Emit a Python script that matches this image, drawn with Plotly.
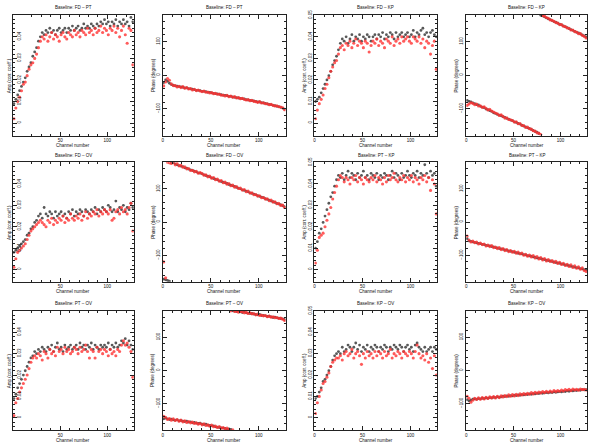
import plotly.graph_objects as go

W, H = 589, 443

# every second channel of the 128-channel band
CHANNELS = list(range(1, 128, 2))

# amplitudes are in units of 1e-3 corr. coeff., phases in degrees
AMP_FD_PT_GRAY = [9, 11, 13, 15, 17, 19, 21, 24, 26, 28, 31, 33, 35, 38, 40, 42,
                  41, 43, 42, 44, 42, 43, 41, 43, 44, 42, 43, 44, 42, 44, 43, 45,
                  43, 44, 45, 43, 44, 46, 44, 45, 44, 46, 45, 44, 46, 45, 47, 46,
                  48, 46, 47, 45, 47, 46, 48, 45, 47, 46, 48, 46, 47, 45, 49, 47]
AMP_FD_PT_RED = [2, 7, 10, 12, 15, 18, 19, 22, 25, 27, 28, 30, 32, 35, 38, 40,
                 39, 41, 38, 40, 42, 39, 41, 40, 38, 41, 42, 40, 39, 42, 41, 40,
                 43, 41, 42, 40, 43, 42, 41, 44, 42, 43, 41, 44, 42, 43, 45, 42,
                 44, 43, 41, 44, 43, 45, 42, 44, 40, 43, 45, 41, 37, 44, 43, 27]

PHA_FD_PT_GRAY = [-22, -14, -18, -24, -28, -30, -32, -33, -34, -35, -36, -38, -38, -40, -41, -42,
                  -43, -45, -45, -46, -48, -48, -49, -51, -51, -53, -54, -55, -56, -57, -58, -60,
                  -60, -61, -63, -63, -65, -66, -67, -68, -69, -70, -71, -73, -74, -75, -76, -77,
                  -78, -80, -80, -82, -83, -84, -86, -87, -88, -90, -91, -93, -94, -96, -98, -101]
PHA_FD_PT_RED = [-32, -20, -10, -15, -26, -31, -31, -35, -33, -37, -34, -39, -37, -41, -40, -44,
                 -42, -46, -44, -47, -49, -47, -51, -50, -53, -52, -55, -54, -57, -56, -60, -59,
                 -62, -60, -64, -62, -66, -64, -68, -67, -70, -69, -72, -74, -73, -76, -75, -78,
                 -79, -81, -79, -83, -82, -85, -85, -88, -87, -90, -92, -91, -94, -95, -97, -103]

AMP_FD_KP_GRAY = [10, 11, 12, 14, 16, 18, 20, 22, 24, 27, 29, 31, 34, 37, 39, 38,
                  40, 37, 39, 41, 38, 40, 39, 41, 38, 40, 39, 41, 40, 38, 40, 41,
                  39, 41, 40, 42, 39, 41, 40, 42, 41, 39, 42, 40, 41, 42, 40, 41,
                  42, 40, 41, 43, 40, 42, 41, 43, 44, 41, 42, 40, 42, 43, 41, 40]
AMP_FD_KP_RED = [2, 6, 9, 11, 13, 16, 18, 21, 24, 26, 28, 29, 32, 35, 36, 34,
                 37, 36, 38, 35, 37, 39, 36, 38, 37, 35, 38, 37, 33, 36, 38, 37,
                 39, 36, 38, 37, 35, 39, 38, 37, 40, 36, 38, 39, 37, 40, 38, 39,
                 40, 38, 37, 40, 39, 38, 40, 37, 39, 35, 38, 37, 32, 36, 38, 25]

PHA_FD_KP_GRAY = [-75, -78, -80, -83, -85, -88, -89, -93, -95, -97, -101, -103, -106, -108, -112, -114,
                  -117, -119, -121, -124, -126, -129, -131, -134, -136, -139, -141, -144, -146, -149, -152, -154,
                  -157, -159, -162, -165, -168, -170, -174, 179, 177, 174, 171, 168, 166, 163, 160, 158,
                  155, 152, 150, 147, 144, 142, 139, 136, 134, 131, 128, 126, 123, 120, 117, 114]
PHA_FD_KP_RED = [-90, -86, -82, -84, -88, -86, -92, -91, -96, -94, -99, -104, -102, -107, -110, -113,
                 -115, -120, -118, -123, -128, -127, -132, -133, -135, -140, -139, -145, -144, -150, -150, -156,
                 -155, -160, -161, -166, -167, -172, -173, -177, 178, 176, 172, 170, 165, 164, 161, 157,
                 156, 151, 151, 146, 145, 141, 140, 135, 135, 130, 129, 124, 124, 119, 116, 111]

AMP_FD_OV_GRAY = [8, 9, 10, 11, 12, 13, 14, 16, 17, 19, 20, 22, 23, 25, 26, 24,
                  29, 26, 25, 27, 26, 24, 27, 25, 26, 27, 25, 26, 24, 27, 26, 28,
                  25, 27, 26, 28, 27, 25, 28, 27, 26, 28, 27, 29, 26, 28, 27, 29,
                  28, 27, 30, 29, 27, 28, 32, 27, 29, 28, 30, 27, 29, 28, 31, 29]
AMP_FD_OV_RED = [1, 5, 8, 9, 10, 11, 12, 14, 16, 18, 19, 20, 21, 22, 23, 22,
                 21, 20, 23, 22, 24, 21, 23, 22, 24, 23, 25, 22, 24, 23, 26, 24,
                 23, 25, 24, 26, 23, 25, 27, 24, 26, 25, 27, 26, 28, 25, 27, 26,
                 28, 27, 26, 28, 23, 24, 27, 28, 26, 29, 27, 28, 26, 29, 31, 18]

PHA_FD_OV_GRAY = [-172, -174, -176, -178, 179, 178, 175, 172, 170, 168, 167, 163, 162, 159, 157, 155,
                  153, 151, 148, 147, 145, 142, 140, 138, 136, 133, 131, 129, 127, 124, 122, 120,
                  118, 116, 113, 111, 109, 107, 104, 102, 100, 97, 95, 93, 91, 88, 86, 84,
                  82, 79, 77, 75, 73, 70, 68, 66, 63, 61, 59, 56, 54, 52, 49, 46]
PHA_FD_OV_RED = [-120, -168, 180, 178, 176, 179, 172, 176, 169, 171, 165, 166, 160, 161, 155, 156,
                 151, 153, 147, 149, 146, 141, 142, 136, 138, 132, 134, 127, 129, 123, 125, 118,
                 120, 114, 116, 109, 111, 105, 107, 101, 102, 96, 98, 91, 93, 87, 88, 82,
                 83, 78, 79, 73, 74, 69, 70, 64, 66, 60, 61, 55, 56, 50, 51, 44]

AMP_PT_KP_GRAY = [10, 13, 17, 19, 22, 25, 28, 31, 34, 36, 39, 42, 44, 43, 45, 42,
                  44, 46, 43, 45, 44, 42, 45, 43, 44, 46, 43, 44, 42, 45, 44, 43,
                  45, 42, 44, 43, 45, 44, 42, 44, 46, 43, 45, 44, 42, 45, 43, 44,
                  46, 44, 43, 45, 44, 46, 43, 45, 44, 49, 45, 43, 46, 44, 45, 39]
AMP_PT_KP_RED = [3, 9, 15, 16, 17, 20, 23, 26, 29, 33, 36, 39, 42, 44, 43, 41,
                 43, 42, 40, 43, 42, 44, 41, 43, 42, 40, 43, 42, 41, 43, 42, 44,
                 41, 43, 42, 40, 43, 41, 44, 42, 43, 45, 42, 41, 43, 42, 44, 41,
                 43, 42, 44, 41, 43, 42, 40, 43, 42, 44, 41, 43, 37, 42, 40, 26]

PHA_PT_KP_GRAY = [-50, -57, -58, -60, -61, -63, -64, -65, -67, -68, -70, -71, -72, -74, -75, -77,
                  -78, -80, -81, -82, -84, -85, -87, -88, -89, -91, -92, -94, -95, -96, -98, -99,
                  -101, -102, -103, -105, -106, -108, -109, -110, -112, -113, -115, -116, -117, -119, -120, -122,
                  -123, -124, -126, -127, -129, -130, -131, -133, -134, -136, -137, -138, -140, -141, -143, -144]
PHA_PT_KP_RED = [-42, -54, -60, -57, -62, -60, -66, -63, -68, -66, -72, -69, -74, -71, -77, -75,
                 -80, -77, -83, -80, -86, -83, -89, -86, -91, -88, -94, -90, -96, -93, -100, -97,
                 -103, -99, -105, -101, -108, -104, -111, -107, -114, -110, -117, -113, -119, -116, -122, -118,
                 -125, -121, -128, -124, -131, -127, -134, -129, -137, -132, -139, -135, -142, -138, -146, -149]

AMP_PT_OV_GRAY = [9, 11, 14, 16, 18, 20, 22, 24, 26, 28, 29, 31, 30, 32, 31, 33,
                  32, 31, 33, 32, 34, 31, 33, 35, 32, 33, 31, 34, 32, 33, 34, 32,
                  33, 34, 32, 35, 33, 34, 32, 34, 33, 35, 32, 34, 33, 32, 34, 33,
                  34, 33, 35, 32, 34, 33, 35, 33, 34, 36, 35, 37, 34, 36, 34, 32]
AMP_PT_OV_RED = [1, 7, 9, 12, 14, 16, 18, 20, 23, 26, 28, 29, 28, 30, 29, 27,
                 31, 30, 28, 32, 30, 31, 29, 33, 31, 32, 30, 33, 31, 32, 30, 31,
                 33, 32, 30, 33, 31, 32, 34, 31, 28, 32, 31, 28, 33, 31, 32, 30,
                 32, 31, 29, 32, 30, 31, 29, 32, 31, 34, 36, 34, 35, 33, 31, 19]

PHA_PT_OV_GRAY = [-146, -144, -146, -148, -147, -149, -150, -149, -152, -151, -153, -154, -153, -156, -155, -158,
                  -157, -159, -160, -159, -162, -163, -162, -165, -166, -167, -167, -170, -171, -172, -173, -174,
                  -175, -177, -176, -178, 179, 178, 177, 178, 176, 174, 175, 173, 172, 171, 171, 169,
                  168, 167, 168, 165, 165, 164, 162, 163, 161, 159, 160, 158, 157, 156, 155, 153]
PHA_PT_OV_RED = [-138, -141, -148, -145, -150, -146, -151, -148, -153, -150, -155, -152, -157, -154, -158, -156,
                 -160, -158, -162, -160, -164, -161, -166, -164, -168, -165, -170, -168, -172, -169, -174, -172,
                 -176, -174, -178, 179, -179, 177, 178, 175, 177, 176, 173, 175, 171, 173, 170, 171,
                 167, 169, 165, 166, 164, 165, 161, 163, 160, 161, 158, 159, 156, 157, 154, 150]

AMP_KP_OV_GRAY = [9, 10, 12, 14, 17, 18, 20, 22, 24, 27, 29, 30, 31, 30, 33, 31,
                  32, 34, 33, 31, 33, 35, 32, 34, 31, 33, 32, 34, 31, 33, 32, 34,
                  33, 31, 33, 32, 34, 33, 31, 33, 32, 34, 33, 32, 34, 33, 31, 33,
                  34, 32, 33, 31, 34, 35, 33, 32, 31, 33, 31, 32, 33, 31, 33, 32]
AMP_KP_OV_RED = [2, 7, 10, 13, 16, 17, 19, 21, 24, 26, 27, 28, 28, 29, 27, 30,
                 31, 29, 30, 32, 28, 30, 31, 29, 25, 30, 28, 31, 29, 30, 28, 31,
                 29, 31, 30, 28, 31, 29, 30, 32, 28, 30, 29, 31, 30, 28, 31, 30,
                 29, 31, 30, 28, 31, 34, 30, 28, 29, 27, 30, 26, 28, 23, 29, 20]

PHA_KP_OV_GRAY = [-88, -92, -90, -87, -86, -87, -85, -86, -84, -85, -83, -84, -82, -83, -81, -82,
                  -80, -81, -80, -78, -79, -77, -78, -76, -77, -75, -76, -74, -75, -73, -74, -72,
                  -73, -71, -72, -70, -71, -69, -70, -68, -69, -68, -67, -68, -66, -67, -65, -66,
                  -65, -64, -65, -63, -64, -62, -63, -61, -62, -60, -61, -59, -60, -58, -59, -58]
PHA_KP_OV_RED = [-78, -84, -96, -90, -84, -88, -83, -87, -82, -86, -81, -85, -80, -83, -79, -83,
                 -78, -82, -77, -80, -76, -79, -74, -78, -73, -77, -72, -76, -71, -74, -70, -73,
                 -69, -72, -67, -71, -66, -69, -65, -68, -64, -67, -63, -66, -62, -65, -61, -64,
                 -61, -63, -59, -62, -58, -60, -57, -61, -56, -59, -57, -60, -56, -58, -57, -59]

PANELS = [
    # row, col, kind, baseline, grey series, red series
    (0, 0, "amp", "FD – PT", AMP_FD_PT_GRAY, AMP_FD_PT_RED),
    (0, 1, "pha", "FD – PT", PHA_FD_PT_GRAY, PHA_FD_PT_RED),
    (0, 2, "amp", "FD – KP", AMP_FD_KP_GRAY, AMP_FD_KP_RED),
    (0, 3, "pha", "FD – KP", PHA_FD_KP_GRAY, PHA_FD_KP_RED),
    (1, 0, "amp", "FD – OV", AMP_FD_OV_GRAY, AMP_FD_OV_RED),
    (1, 1, "pha", "FD – OV", PHA_FD_OV_GRAY, PHA_FD_OV_RED),
    (1, 2, "amp", "PT – KP", AMP_PT_KP_GRAY, AMP_PT_KP_RED),
    (1, 3, "pha", "PT – KP", PHA_PT_KP_GRAY, PHA_PT_KP_RED),
    (2, 0, "amp", "PT – OV", AMP_PT_OV_GRAY, AMP_PT_OV_RED),
    (2, 1, "pha", "PT – OV", PHA_PT_OV_GRAY, PHA_PT_OV_RED),
    (2, 2, "amp", "KP – OV", AMP_KP_OV_GRAY, AMP_KP_OV_RED),
    (2, 3, "pha", "KP – OV", PHA_KP_OV_GRAY, PHA_KP_OV_RED),
]

# panel frames in pixels
COL_X = [(12, 133), (162, 285), (314, 437), (466, 587)]
ROW_Y = [(10, 132), (159, 280), (309, 430)]

FONT = "Liberation Sans"
FS = 4.5
GREY = "rgba(70,70,70,0.9)"
RED = "rgba(255,50,50,0.8)"

fig = go.Figure()
annotations = []
layout = {}


def label(text, x, y, angle=0, xanchor="center"):
    return dict(text=text, x=x / W, y=1 - y / H, xref="paper", yref="paper", showarrow=False,
                xanchor=xanchor, yanchor="middle", textangle=angle,
                font=dict(family=FONT, size=FS, color="#111"))


for i, (row, col, kind, base, grey, red) in enumerate(PANELS):
    n = i + 1
    xs = "" if n == 1 else str(n)
    x0, x1 = COL_X[col]
    y0, y1 = ROW_Y[row]

    if kind == "amp":
        grey_y = [v / 1000 for v in grey]
        red_y = [v / 1000 for v in red]
    else:
        grey_y, red_y = grey, red

    fig.add_trace(go.Scatter(x=CHANNELS, y=grey_y, mode="markers", xaxis="x" + xs, yaxis="y" + xs,
                             marker=dict(size=2.8, color=GREY), showlegend=False, hoverinfo="skip"))
    fig.add_trace(go.Scatter(x=CHANNELS, y=red_y, mode="markers", xaxis="x" + xs, yaxis="y" + xs,
                             marker=dict(size=3.1, color=RED), showlegend=False, hoverinfo="skip"))

    axis_common = dict(showgrid=False, zeroline=False, showline=True, linecolor="#222", linewidth=1,
                       mirror="allticks", ticks="inside", ticklen=4, tickcolor="#222",
                       tickfont=dict(family=FONT, size=FS, color="#111"))
    layout["xaxis" + xs] = dict(axis_common, domain=[x0 / W, x1 / W], anchor="y" + xs,
                                range=[0, 128], tickvals=[0, 50, 100],
                                minor=dict(ticks="inside", ticklen=2, dtick=10, tickcolor="#222"))
    if kind == "amp":
        ydict = dict(range=[-0.0058, 0.0502], tickvals=[0, 0.01, 0.02, 0.03, 0.04, 0.05],
                     ticktext=["0", "0.01", "0.02", "0.03", "0.04", "0.05"],
                     minor=dict(ticks="inside", ticklen=2, dtick=0.002, tickcolor="#222"))
        ytitle = "Amp (corr. coeff.)"
    else:
        ydict = dict(range=[-180, 180], tickvals=[-100, 0, 100], ticktext=["−100", "0", "100"],
                     minor=dict(ticks="inside", ticklen=2, dtick=20, tickcolor="#222"))
        ytitle = "Phase (degrees)"
    if col == 0:
        # leftmost column has its tick labels just inside the frame
        ydict["ticklabelposition"] = "inside"
        ydict["ticklabelstandoff"] = -3
    layout["yaxis" + xs] = dict(axis_common, domain=[1 - y1 / H, 1 - y0 / H], anchor="x" + xs,
                                tickangle=-90, **ydict)

    # labels around each panel
    cx = (x0 + x1) / 2
    annotations.append(label("Baseline: " + base, cx, y0 - 7))
    annotations.append(label("Channel number", cx, y1 + 10))
    tx = 8 if col == 0 else x0 - 10
    annotations.append(label(ytitle, tx, (y0 + y1) / 2, angle=-90))

fig.update_layout(width=W, height=H, margin=dict(l=0, r=0, t=0, b=0),
                  paper_bgcolor="white", plot_bgcolor="white",
                  annotations=annotations, **layout)

# drop the default page margin so the figure sits at the window's corner
fig.write_html("out.html", config={"displayModeBar": False},
               post_script="document.body.style.margin = '0';")
